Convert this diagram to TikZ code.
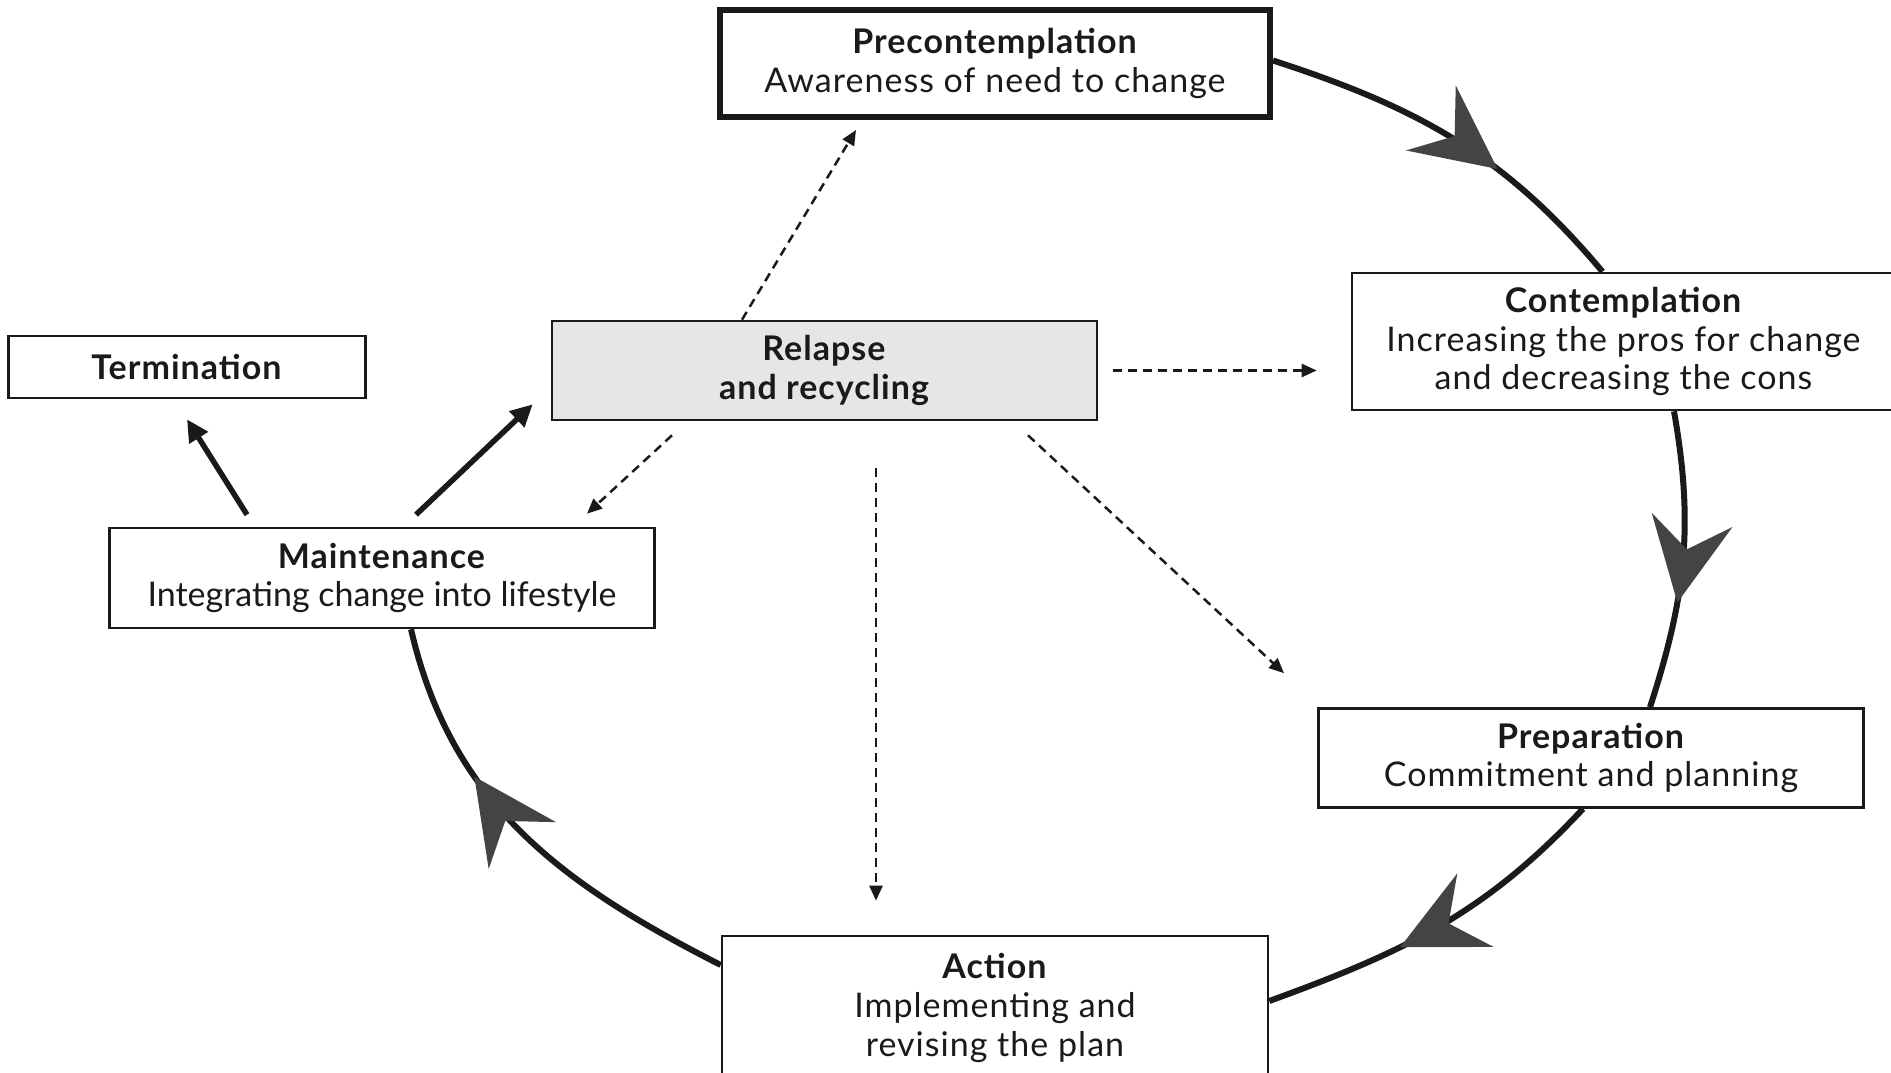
\documentclass[tikz,border=0pt]{standalone}
\usepackage{fontspec}
\setmainfont{Lato}[LetterSpace=3.0]
\newfontfamily\tightfont{Lato}
\usetikzlibrary{arrows.meta,decorations.markings,calc}
\definecolor{arrowgray}{HTML}{444444}
\definecolor{relgray}{HTML}{E6E6E6}
\definecolor{ink}{HTML}{1A1A1A}
\begin{document}
\begin{tikzpicture}[x=1pt,y=1pt,
  box/.style={draw=ink, line width=2.6pt, fill=white, align=center, inner sep=0pt, text=ink,
    font=\fontsize{34}{38.6}\selectfont},
  cyc/.style={line width=6pt, draw=ink, postaction={decorate},
    decoration={markings, mark=at position #1 with {\arrow{Stealth[length=84pt,width=82pt,inset=30pt,line width=0pt,color=arrowgray]}}}},
  dsh/.style={line width=2.5pt, draw=ink, dash pattern=on 9pt off 6pt, -{Triangle[length=15pt,width=13pt]}},
  sol/.style={line width=5.5pt, draw=ink, -{Triangle[length=22pt,width=21pt]}}
]
\useasboundingbox (0,0) rectangle (1891,1073);
\fill[white] (0,0) rectangle (1891,1073);

\node[box, line width=6pt, minimum width=550, minimum height=107] (pre) at (995,1009.5)
  {\textbf{Precontemplation}\\Awareness of need to change};
\node[box, minimum width=543, minimum height=137] (con) at (1623.5,731.5)
  {\textbf{Contemplation}\\Increasing the pros for change\\and decreasing the cons};
\node[box, minimum width=357, minimum height=62] (ter) at (187,706) {\textbf{Termination}};
\node[box, fill=relgray, minimum width=545, minimum height=99] (rel) at (824.5,702.5)
  {\textbf{Relapse}\\\textbf{and recycling}};
\node[box, minimum width=545, minimum height=100] (mai) at (382,495)
  {\textbf{Maintenance}\\{\tightfont Integrating change into lifestyle}};
\node[box, minimum width=545, minimum height=99] (prp) at (1591,315)
  {\textbf{Preparation}\\Commitment and planning};
\node[box, minimum width=546, minimum height=144] (act) at (995,65)
  {\textbf{Action}\\Implementing and\\revising the plan};

% cycle arcs
\draw[cyc=0.63] ([yshift=3pt]pre.east) to[out=-18,in=130] ([xshift=-21pt]con.north);
\draw[cyc=0.64] ([xshift=50.5pt]con.south) to[out=-80,in=72] ([xshift=59pt]prp.north);
\draw[cyc=0.62] ([xshift=-8pt]prp.south) to[out=-133,in=20] ([yshift=7pt]act.east);
\draw[cyc=0.66] ([yshift=43pt]act.west) to[out=153,in=-77] ([xshift=29pt]mai.south);

% dashed arrows from relapse
\draw[dsh] ([xshift=-82.5pt]rel.north) -- ([xshift=-139pt,yshift=-10pt]pre.south);
\draw[dsh] ([xshift=15pt]rel.east) -- ([xshift=-34pt]rel.east -| con.west);
\draw[dsh] ([xshift=-152.5pt,yshift=-14pt]rel.south) -- ([xshift=205pt,yshift=13pt]mai.north);
\draw[dsh] ([xshift=51.5pt,yshift=-47pt]rel.south) -- ([xshift=-119pt,yshift=34pt]act.north);
\draw[dsh] ([xshift=203.5pt,yshift=-14pt]rel.south) -- ([xshift=-307pt,yshift=34pt]prp.north);

% solid arrows from maintenance
\draw[sol] ([xshift=-135pt,yshift=12pt]mai.north) -- ([yshift=-20pt]ter.south);
\draw[sol] ([xshift=34pt,yshift=12pt]mai.north) -- ([xshift=-18pt,yshift=17pt]rel.south west);
\end{tikzpicture}
\end{document}
